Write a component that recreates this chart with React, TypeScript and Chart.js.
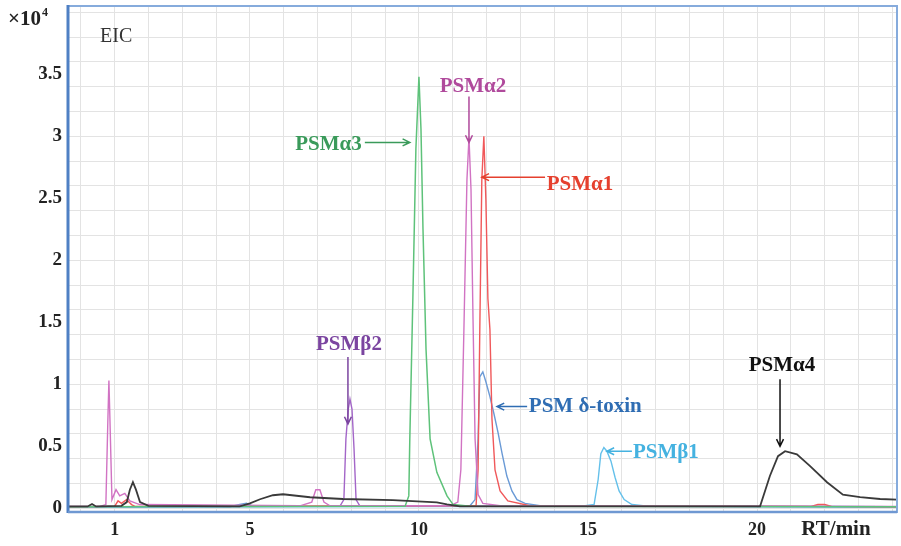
import React, { useEffect, useRef } from 'react';
import { Chart, registerables } from 'chart.js';

Chart.register(...registerables);

// ---- Data: retention time (min) and intensity (x10^4) of each EIC trace ----
const psmA4Time = [-0.38, 0.2, 0.33, 0.45, 1.2, 1.36, 1.45, 1.54, 1.63, 1.75, 2.0, 4.7, 5.0, 5.3, 5.68, 5.98, 6.78, 7.75, 9.23, 10.53, 10.83, 11.21, 15.0, 20.09, 20.38, 20.62, 20.83, 21.18, 21.57, 22.07, 22.54, 23.05, 23.64, 24.14];
const psmA4Int = [0.015, 0.015, 0.035, 0.015, 0.02, 0.05, 0.15, 0.21, 0.15, 0.05, 0.02, 0.016, 0.04, 0.073, 0.105, 0.113, 0.089, 0.075, 0.065, 0.048, 0.032, 0.016, 0.016, 0.016, 0.26, 0.42, 0.46, 0.435, 0.34, 0.21, 0.11, 0.09, 0.075, 0.07];

const psmA3Time = [-0.38, 9.59, 9.70, 9.73, 9.82, 9.91, 10.0, 10.06, 10.12, 10.21, 10.33, 10.53, 10.83, 11.01, 11.51, 24.14];
const psmA3Int = [0.012, 0.016, 0.10, 0.56, 1.69, 2.90, 3.48, 3.06, 2.25, 1.28, 0.56, 0.29, 0.10, 0.03, 0.016, 0.012];

const psmA2Time = [-0.38, 0.56, 0.74, 0.80, 0.83, 0.86, 0.92, 1.04, 1.15, 1.30, 1.45, 1.74, 6.48, 6.83, 6.95, 7.07, 7.19, 7.37, 10.92, 11.15, 11.24, 11.33, 11.42, 11.48, 11.54, 11.60, 11.66, 11.75, 11.89, 12.40, 24.14];
const psmA2Int = [0.015, 0.015, 0.03, 0.72, 1.03, 0.72, 0.07, 0.15, 0.10, 0.12, 0.06, 0.03, 0.02, 0.05, 0.15, 0.15, 0.05, 0.02, 0.02, 0.05, 0.31, 1.44, 2.65, 2.99, 2.57, 1.52, 0.56, 0.11, 0.04, 0.02, 0.015];

const psmA1Time = [-0.38, 1.0, 1.1, 1.2, 1.35, 1.5, 1.6, 11.69, 11.75, 11.80, 11.86, 11.92, 11.98, 12.04, 12.10, 12.16, 12.25, 12.40, 12.63, 13.28, 21.6, 21.8, 22.0, 22.2, 24.14];
const psmA1Int = [0.012, 0.015, 0.06, 0.04, 0.07, 0.03, 0.015, 0.02, 0.31, 1.44, 2.65, 3.0, 2.49, 1.69, 1.44, 0.72, 0.31, 0.14, 0.06, 0.02, 0.015, 0.03, 0.03, 0.015, 0.012];

const psmDeltaTime = [-0.38, 4.41, 4.7, 4.9, 5.1, 11.51, 11.66, 11.75, 11.80, 11.89, 11.98, 12.10, 12.22, 12.34, 12.46, 12.60, 12.75, 12.90, 13.14, 13.58, 24.14];
const psmDeltaInt = [0.012, 0.012, 0.03, 0.04, 0.015, 0.02, 0.07, 0.56, 1.06, 1.10, 1.02, 0.90, 0.76, 0.61, 0.44, 0.26, 0.14, 0.07, 0.04, 0.02, 0.012];

const psmB1Time = [-0.38, 14.76, 15.18, 15.30, 15.38, 15.47, 15.56, 15.68, 15.80, 15.92, 16.07, 16.30, 16.83, 24.14];
const psmB1Int = [0.01, 0.015, 0.03, 0.23, 0.44, 0.49, 0.46, 0.38, 0.25, 0.14, 0.07, 0.03, 0.015, 0.01];

const psmB2Time = [-0.38, 7.66, 7.78, 7.84, 7.91, 7.96, 8.02, 8.08, 8.14, 8.25, 24.14];
const psmB2Int = [0.012, 0.015, 0.07, 0.56, 0.80, 0.88, 0.80, 0.48, 0.07, 0.02, 0.012];

// ---- Axis ticks ----
const xLabelTicks = [1, 5, 10, 15, 20];
const xGridTicks = [0, 1, 2, 3, 4, 5, 6, 7, 8, 9, 10, 11, 12, 13, 14, 15, 16, 17, 18, 19, 20, 21, 22, 23, 24];
const yLabelTicks = [0, 0.5, 1, 1.5, 2, 2.5, 3, 3.5];
const yGridTicks = [0, 0.2, 0.4, 0.6, 0.8, 1, 1.2, 1.4, 1.6, 1.8, 2, 2.2, 2.4, 2.6, 2.8, 3, 3.2, 3.4, 3.6, 3.8, 4];

const X_MIN = -0.38;
const X_MAX = 24.14;
const Y_MIN = -0.03;
const Y_MAX = 4.05;

// ---- Peak annotations (data coordinates) ----
type Ann = { text: string; color: string; tx: number; ty: number; align: CanvasTextAlign; arrow: [number, number, number, number] };
const annotations: Ann[] = [
  { text: 'PSMα3', color: '#3a9a5a', tx: 8.31, ty: 2.93, align: 'right', arrow: [8.40, 2.95, 9.73, 2.95] },
  { text: 'PSMα2', color: '#b04a9c', tx: 11.60, ty: 3.40, align: 'center', arrow: [11.48, 3.32, 11.48, 2.95] },
  { text: 'PSMα1', color: '#e5402e', tx: 13.78, ty: 2.61, align: 'left', arrow: [13.73, 2.67, 11.86, 2.67] },
  { text: 'PSMβ2', color: '#7b45a0', tx: 7.93, ty: 1.32, align: 'center', arrow: [7.90, 1.22, 7.90, 0.68] },
  { text: 'PSM δ-toxin', color: '#2f6db3', tx: 13.25, ty: 0.82, align: 'left', arrow: [13.20, 0.82, 12.31, 0.82] },
  { text: 'PSMβ1', color: '#45b2e0', tx: 16.33, ty: 0.45, align: 'left', arrow: [16.30, 0.46, 15.56, 0.46] },
  { text: 'PSMα4', color: '#111111', tx: 20.74, ty: 1.15, align: 'center', arrow: [20.68, 1.04, 20.68, 0.50] },
];

const SERIF = '"Liberation Serif", "Times New Roman", serif';

function toPoints(t: number[], v: number[]) {
  return t.map((x, i) => ({ x, y: v[i] }));
}

const near = (v: number, list: number[]) => list.some((l) => Math.abs(l - v) < 1e-6);

const decorPlugin = {
  id: 'decor',
  afterDraw(chart: any) {
    const { ctx, chartArea } = chart;
    const xs = chart.scales.x;
    const ys = chart.scales.y;
    ctx.save();

    // annotations
    for (const a of annotations) {
      const [x1, y1, x2, y2] = a.arrow;
      const p1x = xs.getPixelForValue(x1), p1y = ys.getPixelForValue(y1);
      const p2x = xs.getPixelForValue(x2), p2y = ys.getPixelForValue(y2);
      ctx.strokeStyle = a.color;
      ctx.lineWidth = 1.5;
      ctx.beginPath();
      ctx.moveTo(p1x, p1y);
      ctx.lineTo(p2x, p2y);
      const ang = Math.atan2(p2y - p1y, p2x - p1x);
      const hl = 8;
      ctx.moveTo(p2x - hl * Math.cos(ang - 0.45), p2y - hl * Math.sin(ang - 0.45));
      ctx.lineTo(p2x, p2y);
      ctx.lineTo(p2x - hl * Math.cos(ang + 0.45), p2y - hl * Math.sin(ang + 0.45));
      ctx.stroke();
      ctx.fillStyle = a.color;
      ctx.font = `bold 21px ${SERIF}`;
      ctx.textAlign = a.align;
      ctx.textBaseline = 'middle';
      ctx.fillText(a.text, xs.getPixelForValue(a.tx), ys.getPixelForValue(a.ty));
    }

    // plot frame
    ctx.strokeStyle = '#86abdc';
    ctx.lineWidth = 2;
    ctx.strokeRect(chartArea.left, chartArea.top, chartArea.right - chartArea.left, chartArea.bottom - chartArea.top);
    ctx.strokeStyle = '#4f80c4';
    ctx.lineWidth = 3;
    ctx.beginPath();
    ctx.moveTo(chartArea.left, chartArea.top - 1);
    ctx.lineTo(chartArea.left, chartArea.bottom + 1);
    ctx.stroke();
    ctx.strokeStyle = '#6f98d2';
    ctx.lineWidth = 2.5;
    ctx.beginPath();
    ctx.moveTo(chartArea.left, chartArea.bottom);
    ctx.lineTo(chartArea.right, chartArea.bottom);
    ctx.stroke();

    // texts
    ctx.fillStyle = '#222';
    ctx.textBaseline = 'middle';
    ctx.textAlign = 'left';
    ctx.font = `bold 21px ${SERIF}`;
    ctx.fillText('×10', 8, 20);
    const w = ctx.measureText('×10').width;
    ctx.font = `bold 12px ${SERIF}`;
    ctx.fillText('4', 8 + w + 1, 13);

    ctx.font = `20px ${SERIF}`;
    ctx.fillStyle = '#333';
    ctx.fillText('EIC', 100, 37);

    ctx.font = `bold 21px ${SERIF}`;
    ctx.fillStyle = '#222';
    ctx.textAlign = 'center';
    ctx.fillText('RT/min', 836, 530);
    ctx.restore();
  },
};

export default function App() {
  const ref = useRef<HTMLCanvasElement | null>(null);

  useEffect(() => {
    if (!ref.current) return;
    const mk = (label: string, t: number[], v: number[], color: string, width = 1.4) => ({
      label,
      data: toPoints(t, v),
      borderColor: color,
      backgroundColor: color,
      borderWidth: width,
      pointRadius: 0,
      tension: 0,
      fill: false,
    });
    const chart = new Chart(ref.current, {
      type: 'line',
      data: {
        datasets: [
          mk('PSMα4', psmA4Time, psmA4Int, '#3a3a3a', 1.8),
          mk('PSMα3', psmA3Time, psmA3Int, '#5ec27a', 1.5),
          mk('PSMα2', psmA2Time, psmA2Int, '#d173c3', 1.4),
          mk('PSMα1', psmA1Time, psmA1Int, '#f0585a', 1.4),
          mk('PSM δ-toxin', psmDeltaTime, psmDeltaInt, '#6a9ad6', 1.4),
          mk('PSMβ1', psmB1Time, psmB1Int, '#64c0ea', 1.4),
          mk('PSMβ2', psmB2Time, psmB2Int, '#a366c8', 1.4),
        ],
      },
      options: {
        animation: false,
        responsive: false,
        maintainAspectRatio: false,
        layout: { padding: { left: 0, top: 6, right: 4, bottom: 0 } },
        plugins: { legend: { display: false }, tooltip: { enabled: false } },
        scales: {
          x: {
            type: 'linear',
            min: X_MIN,
            max: X_MAX,
            afterBuildTicks: (s: any) => {
              const all = Array.from(new Set([...xGridTicks, ...xLabelTicks])).sort((a, b) => a - b);
              s.ticks = all.map((value) => ({ value }));
            },
            afterFit: (s: any) => { s.height = 34; s.paddingLeft = 0; s.paddingRight = 0; },
            ticks: {
              autoSkip: false,
              maxRotation: 0,
              padding: 8,
              color: '#222',
              font: { family: SERIF, size: 18, weight: 'bold' },
              callback: (v: any) => (near(Number(v), xLabelTicks) ? String(v) : ''),
            },
            grid: {
              drawTicks: false,
              lineWidth: 1,
              color: (c: any) => (c.tick && near(c.tick.value, xGridTicks) ? '#e3e3e3' : 'rgba(0,0,0,0)'),
            },
            border: { display: false },
          },
          y: {
            type: 'linear',
            min: Y_MIN,
            max: Y_MAX,
            afterBuildTicks: (s: any) => {
              const all = Array.from(new Set([...yGridTicks, ...yLabelTicks])).sort((a, b) => a - b);
              s.ticks = all.map((value) => ({ value }));
            },
            afterFit: (s: any) => { s.width = 68; s.paddingTop = 0; s.paddingBottom = 0; },
            ticks: {
              autoSkip: false,
              padding: 6,
              color: '#222',
              font: { family: SERIF, size: 19, weight: 'bold' },
              callback: (v: any) => (near(Number(v), yLabelTicks) ? String(v) : ''),
            },
            grid: {
              drawTicks: false,
              lineWidth: 1,
              color: (c: any) => (c.tick && near(c.tick.value, yGridTicks) ? '#e3e3e3' : 'rgba(0,0,0,0)'),
            },
            border: { display: false },
          },
        },
      },
      plugins: [decorPlugin],
    });
    return () => chart.destroy();
  }, []);

  return (
    <div style={{ position: 'fixed', left: 0, top: 0, width: 901, height: 546, background: '#fff' }}>
      <canvas ref={ref} width={901} height={546} style={{ width: 901, height: 546, display: 'block' }} />
    </div>
  );
}
